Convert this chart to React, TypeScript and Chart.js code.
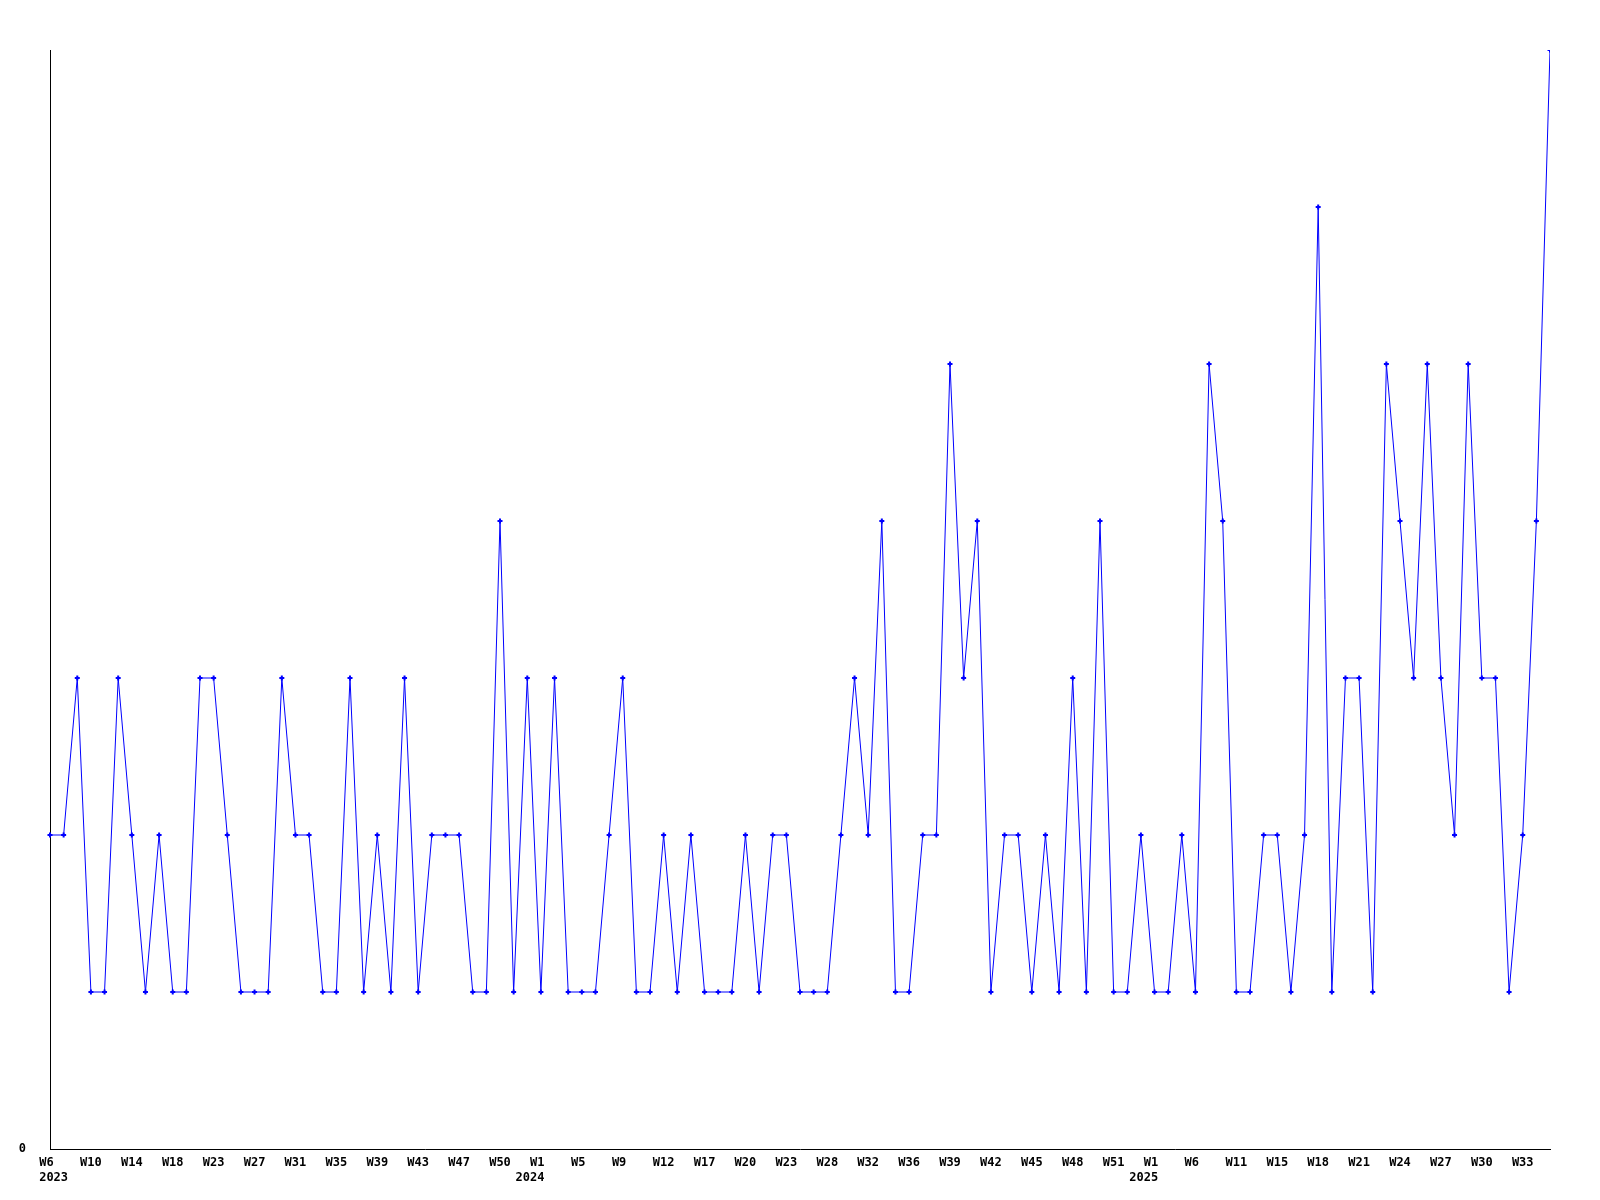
import { useEffect, useRef } from "react";
import { Chart, registerables } from "chart.js";

Chart.register(...registerables);

// Weekly counts, one per sample point (111 points)
const values: number[] = [
  2, 2, 3, 1, 1, 3, 2, 1, 2, 1,
  1, 3, 3, 2, 1, 1, 1, 3, 2, 2,
  1, 1, 3, 1, 2, 1, 3, 1, 2, 2,
  2, 1, 1, 4, 1, 3, 1, 3, 1, 1,
  1, 2, 3, 1, 1, 2, 1, 2, 1, 1,
  1, 2, 1, 2, 2, 1, 1, 1, 2, 3,
  2, 4, 1, 1, 2, 2, 5, 3, 4, 1,
  2, 2, 1, 2, 1, 3, 1, 4, 1, 1,
  2, 1, 1, 2, 1, 5, 4, 1, 1, 2,
  2, 1, 2, 6, 1, 3, 3, 1, 5, 4,
  3, 5, 3, 2, 5, 3, 3, 1, 2, 4, 7,
];

// Tick labels shown on every third point
const tickWeeks: string[] = [
  "W6", "W10", "W14", "W18", "W23", "W27", "W31", "W35", "W39", "W43", "W47", "W50",
  "W1", "W5", "W9", "W12", "W17", "W20", "W23", "W28", "W32", "W36", "W39", "W42", "W45", "W48", "W51",
  "W1", "W6", "W11", "W15", "W18", "W21", "W24", "W27", "W30", "W33",
];

// Year shown under the first tick of each year (tick index -> year)
const tickYearIndex: number[] = [0, 12, 27];
const tickYears: string[] = ["2023", "2024", "2025"];

const TICK_EVERY = 3;
const yTickLabels: string[] = ["0"];

export default function App() {
  const ref = useRef<HTMLCanvasElement>(null);

  useEffect(() => {
    const canvas = ref.current;
    if (!canvas) return;
    const font = {
      family: '"DejaVu Sans Mono", monospace',
      size: 12,
      weight: "bold" as const,
      lineHeight: 1.2,
    };
    const chart = new Chart(canvas, {
      type: "line",
      data: {
        labels: values.map((_, i) => i),
        datasets: [
          {
            data: values,
            borderColor: "#0000ff",
            borderWidth: 1,
            pointStyle: "cross",
            pointRadius: 2.5,
            pointBorderWidth: 2,
            pointBorderColor: "#0000ff",
            pointBackgroundColor: "#0000ff",
            tension: 0,
            fill: false,
            clip: { left: 4, top: 0, right: 0, bottom: 4 },
          },
        ],
      },
      options: {
        animation: false,
        responsive: false,
        maintainAspectRatio: false,
        layout: { padding: { left: 0, right: 42, top: 42, bottom: 0 } },
        plugins: { legend: { display: false }, tooltip: { enabled: false } },
        scales: {
          x: {
            type: "category",
            grid: { display: false },
            border: { display: true, color: "#000000", width: 1 },
            ticks: {
              autoSkip: false,
              maxRotation: 0,
              minRotation: 0,
              padding: -1,
              color: "#000000",
              font,
              callback: (_v: any, i: number) => {
                if (i % TICK_EVERY !== 0) return "";
                const k = i / TICK_EVERY;
                const w = (tickWeeks[k] ?? "").padEnd(3, " ");
                const yi = tickYearIndex.indexOf(k);
                if (yi < 0) return w;
                const y = k === 0 ? " " + tickYears[yi] : tickYears[yi] + "   ";
                return [w, y];
              },
            },
            afterFit: (s: any) => {
              s.height = 39;
            },
          },
          y: {
            min: 0,
            max: 7,
            grid: { display: false },
            border: { display: true, color: "#000000", width: 1 },
            ticks: {
              padding: 16,
              color: "#000000",
              font,
              callback: (_v: any, i: number) => yTickLabels[i] ?? "",
            },
            afterBuildTicks: (s: any) => {
              s.ticks = [{ value: 0 }];
            },
            afterFit: (s: any) => {
              s.width = 42;
            },
          },
        },
      },
    });
    return () => chart.destroy();
  }, []);

  return (
    <canvas
      ref={ref}
      width={1584}
      height={1180}
      style={{ display: "block", width: "1584px", height: "1180px" }}
    />
  );
}
